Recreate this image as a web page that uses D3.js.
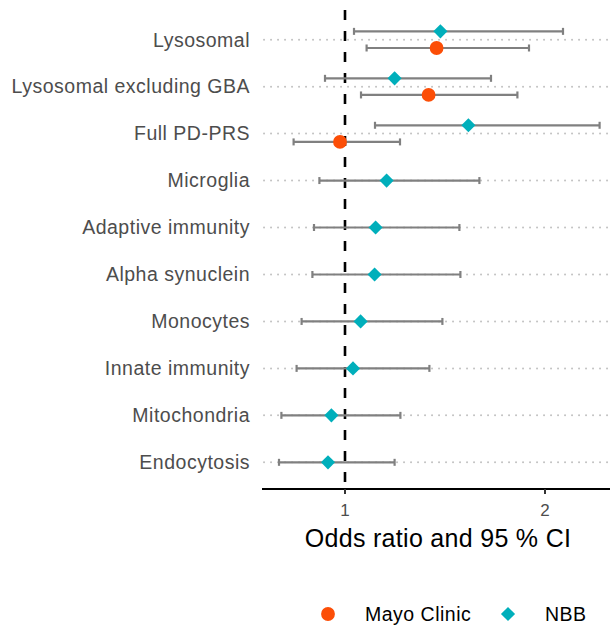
<!DOCTYPE html>
<head>
    <style>
    body { margin: 0; background: #fff; }
    text { font-family: "Liberation Sans", Arial, sans-serif; }
    .grid { stroke: #c4c4c4; stroke-width: 2; stroke-dasharray: 0.1,6.9; stroke-linecap: round; }
    .ci { stroke: #808080; stroke-width: 2.2; fill: none; }
    </style>
    <script src="https://d3js.org/d3.v7.min.js"></script>
</head>
<body>
    <svg width="610" height="626"></svg>
    <script>

    var categories = ["Lysosomal", "Lysosomal excluding GBA", "Full PD-PRS", "Microglia",
        "Adaptive immunity", "Alpha synuclein", "Monocytes", "Innate immunity",
        "Mitochondria", "Endocytosis"];

    // NBB cohort, one per category
    var nbbOR = [1.477, 1.248, 1.617, 1.208, 1.153, 1.148, 1.078, 1.040, 0.932, 0.915];
    var nbbLo = [1.045, 0.900, 1.150, 0.872, 0.845, 0.837, 0.783, 0.758, 0.682, 0.670];
    var nbbHi = [2.090, 1.730, 2.273, 1.672, 1.572, 1.577, 1.487, 1.422, 1.277, 1.248];

    // Mayo Clinic cohort, only the first three categories
    var mayoCats = ["Lysosomal", "Lysosomal excluding GBA", "Full PD-PRS"];
    var mayoOR = [1.458, 1.418, 0.975];
    var mayoLo = [1.108, 1.080, 0.743];
    var mayoHi = [1.920, 1.862, 1.275];

    var xTicks = [1, 2];
    var groups = ["Mayo Clinic", "NBB"];
    var colors = { "Mayo Clinic": "#fc4e07", "NBB": "#00afbb" };

    var svg = d3.select("svg");

    var x = d3.scaleLinear().domain([0.585, 2.33]).range([262, 611]);
    var y = d3.scalePoint().domain(categories).range([11.5, 490.5]).padding(0.6);
    var step = y.step();
    var dodge = step * 0.177;

    var rows = [];
    categories.forEach(function(c, i) {
      var hasMayo = mayoCats.indexOf(c) >= 0;
      rows.push({ cat: c, group: "NBB", or: nbbOR[i], lo: nbbLo[i], hi: nbbHi[i],
                  off: hasMayo ? -dodge : 0 });
    });
    mayoCats.forEach(function(c, i) {
      rows.push({ cat: c, group: "Mayo Clinic", or: mayoOR[i], lo: mayoLo[i], hi: mayoHi[i], off: dodge });
    });

    // dotted horizontal guides
    svg.append("g").selectAll("line").data(categories).enter().append("line")
        .attr("class", "grid")
        .attr("x1", 264).attr("x2", 610)
        .attr("y1", function(d) { return y(d); })
        .attr("y2", function(d) { return y(d); });

    // category labels
    svg.append("g").selectAll("text").data(categories).enter().append("text")
        .attr("x", 250)
        .attr("y", function(d) { return y(d); })
        .attr("dy", "0.35em")
        .attr("text-anchor", "end")
        .attr("font-size", 19.5)
        .attr("letter-spacing", 0.5)
        .attr("fill", "#4d4d4d")
        .text(function(d) { return d; });

    // reference line at OR = 1
    svg.append("line")
        .attr("x1", x(1)).attr("x2", x(1))
        .attr("y1", 10).attr("y2", 489)
        .attr("stroke", "#000")
        .attr("stroke-width", 2.6)
        .attr("stroke-dasharray", "10,11");

    // confidence intervals
    var ci = svg.append("g").selectAll("g").data(rows).enter().append("g").attr("class", "ci");
    ci.append("line")
        .attr("x1", function(d) { return x(d.lo); })
        .attr("x2", function(d) { return x(d.hi); })
        .attr("y1", function(d) { return y(d.cat) + d.off; })
        .attr("y2", function(d) { return y(d.cat) + d.off; });
    ["lo", "hi"].forEach(function(k) {
      ci.append("line")
          .attr("x1", function(d) { return x(d[k]); })
          .attr("x2", function(d) { return x(d[k]); })
          .attr("y1", function(d) { return y(d.cat) + d.off - 3.5; })
          .attr("y2", function(d) { return y(d.cat) + d.off + 3.5; });
    });

    var circle = d3.symbol().type(d3.symbolCircle).size(150);
    var diamond = d3.symbol().type(d3.symbolSquare).size(100);

    function shape(g) {
      return g === "NBB" ? diamond() : circle();
    }
    function rot(g) {
      return g === "NBB" ? " rotate(45)" : "";
    }

    svg.append("g").selectAll("path").data(rows).enter().append("path")
        .attr("d", function(d) { return shape(d.group); })
        .attr("transform", function(d) {
          return "translate(" + x(d.or) + "," + (y(d.cat) + d.off) + ")" + rot(d.group);
        })
        .attr("fill", function(d) { return colors[d.group]; });

    // x axis
    var axis = svg.append("g").attr("transform", "translate(0,489)");
    axis.append("line")
        .attr("x1", 262).attr("x2", 610)
        .attr("stroke", "#000").attr("stroke-width", 2);
    var tk = axis.selectAll("g").data(xTicks).enter().append("g")
        .attr("transform", function(d) { return "translate(" + x(d) + ",0)"; });
    tk.append("line").attr("y1", 0).attr("y2", 5).attr("stroke", "#333").attr("stroke-width", 2);
    tk.append("text")
        .attr("y", 21)
        .attr("dy", "0.35em")
        .attr("text-anchor", "middle")
        .attr("font-size", 17)
        .attr("fill", "#4d4d4d")
        .text(function(d) { return d; });

    svg.append("text")
        .attr("x", 438).attr("y", 538)
        .attr("dy", "0.35em")
        .attr("text-anchor", "middle")
        .attr("font-size", 25)
        .attr("letter-spacing", 0.3)
        .attr("fill", "#000")
        .text("Odds ratio and 95 % CI");

    // legend
    var legX = [328, 508];
    var leg = svg.append("g").selectAll("g").data(groups).enter().append("g")
        .attr("transform", function(d, i) { return "translate(" + legX[i] + ",614)"; });
    leg.append("path")
        .attr("d", function(d) { return shape(d); })
        .attr("transform", function(d) { return rot(d).trim(); })
        .attr("fill", function(d) { return colors[d]; });
    leg.append("text")
        .attr("x", 37)
        .attr("dy", "0.35em")
        .attr("font-size", 19.5)
        .attr("letter-spacing", 0.5)
        .attr("fill", "#000")
        .text(function(d) { return d; });

    </script>
</body>
